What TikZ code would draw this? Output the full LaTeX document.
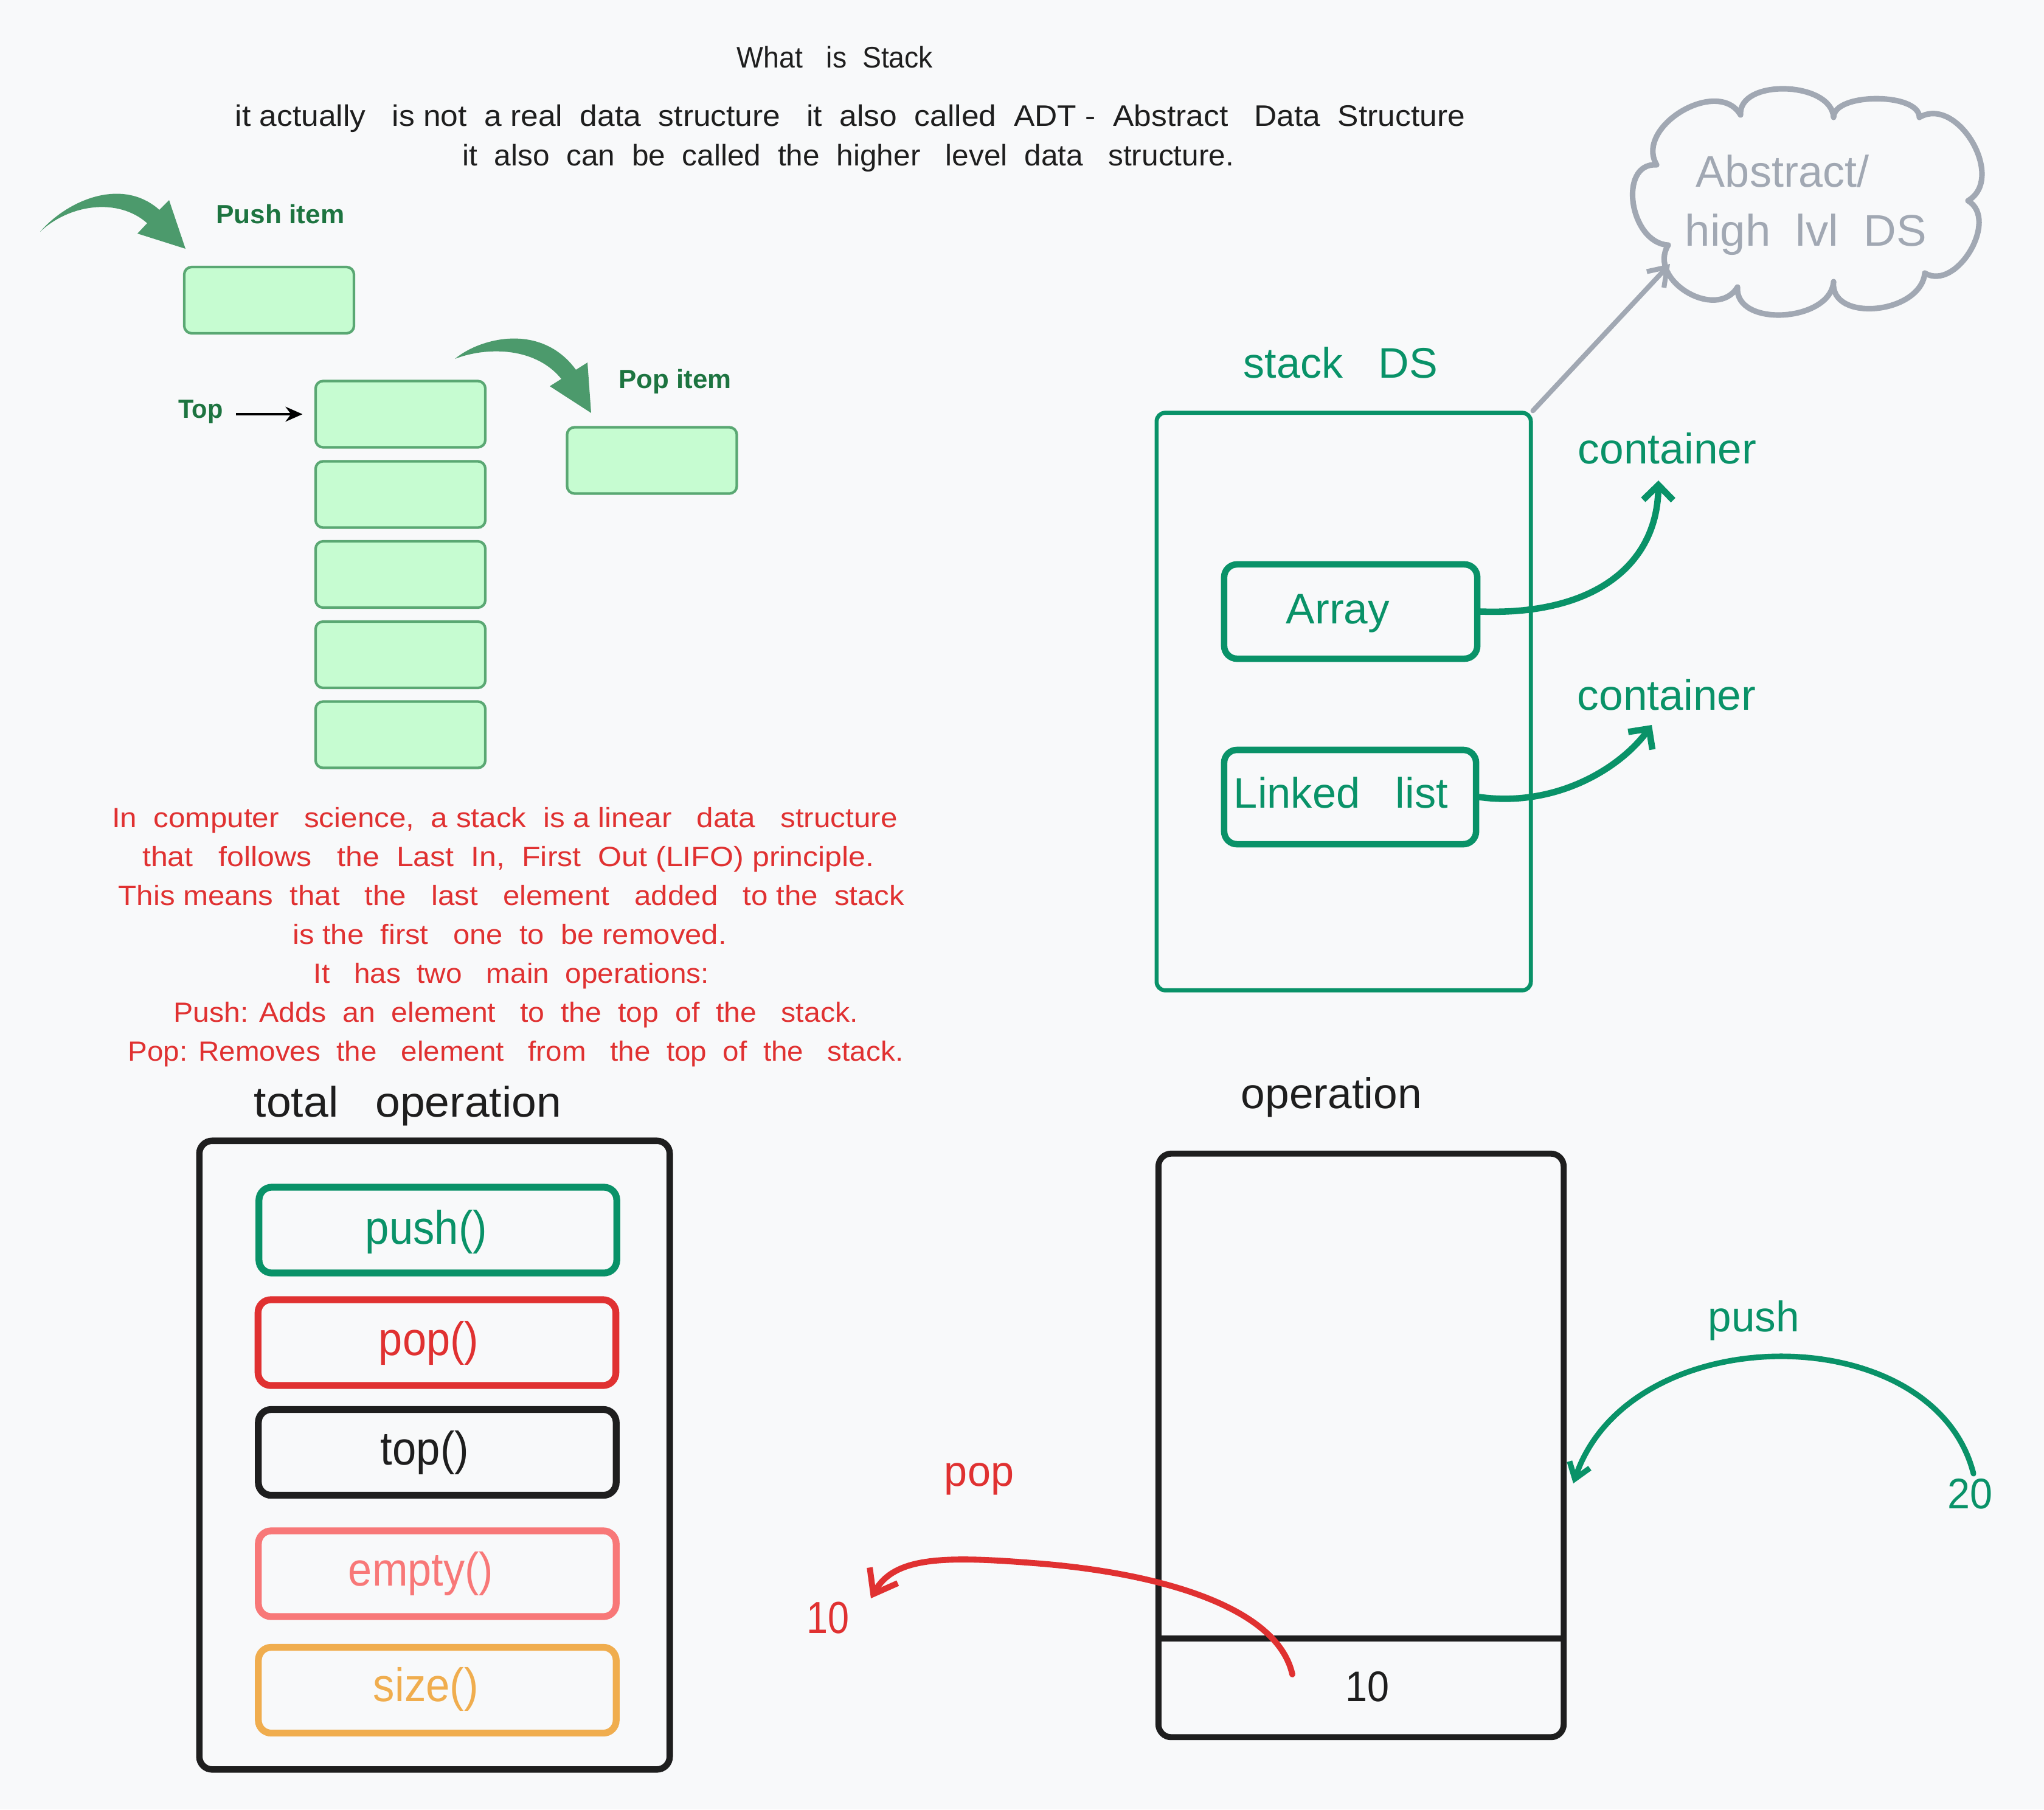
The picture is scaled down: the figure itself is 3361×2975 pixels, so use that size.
\documentclass[tikz,border=0pt]{standalone}
\usepackage{fontspec}
\setmainfont{Liberation Sans}
\usetikzlibrary{arrows.meta,calc}
\definecolor{bg}{HTML}{F8F9FA}
\definecolor{gfgfill}{HTML}{C6FCD1}
\definecolor{gfgedge}{HTML}{5AA873}
\definecolor{gfgtext}{HTML}{1D7440}
\definecolor{gfgarrow}{HTML}{4C9A6C}
\definecolor{exgreen}{HTML}{099268}
\definecolor{exred}{HTML}{E03131}
\definecolor{exblack}{HTML}{1E1E1E}
\definecolor{exsalmon}{HTML}{F87878}
\definecolor{exorange}{HTML}{F0AD4E}
\definecolor{exgray}{HTML}{A1A8B3}
\newcommand\myfs[1]{\fontsize{#1}{#1}\selectfont}
\newcommand\myfw[2]{\resizebox{#1cm}{\height}{#2}}
\tikzset{
  txt/.style={inner sep=0pt, anchor=base},
  gbox/.style={draw=gfgedge, fill=gfgfill, line width=1.2pt, rounded corners=3.5pt, inner sep=0pt, minimum width=2.79cm, minimum height=1.09cm},
  xbox/.style={rounded corners=6pt, inner sep=0pt, line width=3pt},
  opbox/.style={xbox, minimum width=5.88cm, minimum height=1.41cm, line width=3.2pt},
  exarrow/.style={line width=3pt, line cap=round},
}
\begin{document}
\begin{tikzpicture}[x=0.01cm,y=-0.01cm]
\path[use as bounding box, fill=bg] (0,0) rectangle (3361,2975);

% ---------- header text ----------
\node[txt, text=exblack] (title) at (1373,111) {\myfs{13.9}\myfw{3.22}{What~~~is~~Stack}};
\node[txt, text=exblack] (line2) at (1398,207) {\myfs{13.9}\myfw{20.21}{it actually~~ is not~ a real~ data~ structure~~ it~ also~ called~ ADT -~ Abstract~~ Data~ Structure}};
\node[txt, text=exblack] (line3) at (1395,272) {\myfs{13.9}\myfw{12.68}{it~ also~ can~ be~ called~ the~ higher~~ level~ data~~ structure.}};

% ---------- GfG stack picture ----------
\node[gbox] (pushbox) at (442.5,493.5) {};
\node[gbox] (popbox) at (1072,757) {};
\node[gbox] (s1) at (658.5,681) {};
\node[gbox] (s2) at (658.5,813) {};
\node[gbox] (s3) at (658.5,944.5) {};
\node[gbox] (s4) at (658.5,1076.5) {};
\node[gbox] (s5) at (658.5,1208) {};
\node[txt, text=gfgtext] (pushlbl) at (461,367) {\myfs{12.3}\bfseries\myfw{2.11}{Push item}};
\node[txt, text=gfgtext] (poplbl) at (1110,638) {\myfs{12.3}\bfseries\myfw{1.85}{Pop item}};
\node[txt, text=gfgtext] (toplbl) at (330,687) {\myfs{12.3}\bfseries\myfw{0.73}{Top}};
\draw[line width=1pt, -{Stealth[length=8pt,width=7pt]}, shorten <=6pt, shorten >=5.5pt]
  (toplbl.east |- s1.west) -- (s1.west);
\fill[gfgarrow] (66,381) .. controls (110,330) and (200,290) .. (262,345) -- (278,329) -- (305,409) -- (226,384) -- (242,367) .. controls (195,325) and (115,335) .. (66,381) -- cycle;
\fill[gfgarrow] (748,590) .. controls (790,555) and (890,530) .. (947,608) -- (966,596) -- (972,679) -- (904,635) -- (923,623) .. controls (880,570) and (800,570) .. (748,590) -- cycle;

% ---------- red paragraph ----------
\begin{scope}[every node/.style={txt, text=exred}]
\node (p1) at (830,1360) {\myfs{13}\myfw{12.91}{In~ computer~~ science,~ a stack~ is a linear~~ data~~ structure}};
\node (p2) at (836,1424) {\myfs{13}\myfw{12.03}{that~~ follows~~ the~ Last~ In,~ First~ Out (LIFO) principle.}};
\node (p3) at (841,1488) {\myfs{13}\myfw{12.92}{This means~ that~~ the~~ last~~ element~~ added~~ to the~ stack}};
\node (p4) at (838,1552) {\myfs{13}\myfw{7.13}{is the~ first~~ one~ to~ be removed.}};
\node (p5) at (841,1616) {\myfs{13}\myfw{6.50}{It~~ has~ two~~ main~ operations:}};
\node (p6) at (848,1680) {\myfs{13}\myfw{11.25}{Push: Adds~ an~ element~~ to~ the~ top~ of~ the~~ stack.}};
\node (p7) at (848,1744) {\myfs{13}\myfw{12.74}{Pop: Removes~ the~~ element~~ from~~ the~ top~ of~ the~~ stack.}};
\end{scope}

% ---------- stack DS ----------
\node[draw=exgreen, line width=1.9pt, rounded corners=4pt, minimum width=6.15cm, minimum height=9.49cm, inner sep=0pt] (dsbox) at (2209.5,1153.5) {};
\node[xbox, draw=exgreen, minimum width=4.16cm, minimum height=1.55cm] (arr) at (2221,1005.5) {};
\node[xbox, draw=exgreen, minimum width=4.14cm, minimum height=1.55cm] (ll) at (2220,1310.5) {};
\node[txt, text=exgreen] (dslbl) at (2204.5,621) {\myfs{20}\myfw{3.19}{stack~~~DS}};
\node[txt, text=exgreen] (arrlbl) at (2200,1025) {\myfs{20}\myfw{1.70}{Array}};
\node[txt, text=exgreen] (lllbl) at (2205,1328) {\myfs{20}\myfw{3.52}{Linked~~~list}};
\node[txt, text=exgreen] (cont1) at (2741.5,762) {\myfs{20}\myfw{2.93}{container}};
\node[txt, text=exgreen] (cont2) at (2740.5,1167) {\myfs{20}\myfw{2.93}{container}};
\coordinate (c1tip) at (2727,790);
\coordinate (c2tip) at (2716,1192);
\draw[exgreen, exarrow, -{Straight Barb[length=7pt,width=14pt]}] (arr.east) .. controls (2620,1012) and (2725,930) .. (c1tip);
\draw[exgreen, exarrow, -{Straight Barb[length=7pt,width=14pt]}] (ll.east) .. controls (2560,1328) and (2665,1262) .. (c2tip);

% ---------- cloud ----------
\draw[exgray, line width=2.6pt, line join=round]
  (2724,271) .. controls (2687,208) and (2825,126) .. (2862,189)
  .. controls (2858,129) and (3011,133) .. (3015,193)
  .. controls (3015,152) and (3156,152) .. (3156,193)
  .. controls (3219,156) and (3299,293) .. (3236,330)
  .. controls (3288,361) and (3217,480) .. (3165,449)
  .. controls (3158,517) and (3008,531) .. (3015,463)
  .. controls (3010,530) and (2852,539) .. (2857,472)
  .. controls (2822,529) and (2708,460) .. (2743,403)
  .. controls (2679,399) and (2660,267) .. (2724,271) -- cycle;
\node[txt, text=exgray] (cl1) at (2931,307) {\myfs{20.7}\myfw{2.84}{Abstract/}};
\node[txt, text=exgray] (cl2) at (2969.5,404) {\myfs{20.7}\myfw{3.97}{high~~lvl~~DS}};
\coordinate (cloudtip) at (2746,434);
\draw[exgray, line width=2.3pt, line cap=round, -{Straight Barb[length=8pt,width=11pt]}] (dsbox.north east) -- (cloudtip);

% ---------- total operation ----------
\node[txt, text=exblack] (totlbl) at (670.5,1836) {\myfs{20}\myfw{5.05}{total~~~operation}};
\node[xbox, draw=exblack, minimum width=7.73cm, minimum height=10.33cm] (totbox) at (714.5,2392.5) {};
\node[opbox, draw=exgreen] (pushf) at (720,2022.5) {};
\node[opbox, draw=exred] (popf) at (718.5,2207.5) {};
\node[opbox, draw=exblack] (topf) at (719,2388) {};
\node[opbox, draw=exsalmon] (emptyf) at (719,2587.5) {};
\node[opbox, draw=exorange] (sizef) at (719,2779) {};
\node[txt, text=exgreen] at (701,2045) {\myfs{22}\myfw{2.00}{push()}};
\node[txt, text=exred] at (705,2228) {\myfs{22}\myfw{1.64}{pop()}};
\node[txt, text=exblack] at (698.5,2408) {\myfs{22}\myfw{1.45}{top()}};
\node[txt, text=exsalmon] at (692,2607) {\myfs{22}\myfw{2.38}{empty()}};
\node[txt, text=exorange] at (700.5,2797) {\myfs{22}\myfw{1.73}{size()}};

% ---------- operation ----------
\node[txt, text=exblack] (oplbl) at (2189.5,1822) {\myfs{20}\myfw{2.97}{operation}};
\node[xbox, draw=exblack, line width=2.8pt, minimum width=6.66cm, minimum height=9.59cm] (opbox) at (2238,2376.5) {};
\coordinate (divl) at (opbox.west |- 0,2694);
\coordinate (divr) at (opbox.east |- 0,2694);
\draw[exblack, line width=2.8pt] (divl) -- (divr);
\node[txt, text=exblack] (ten) at (2248,2797) {\myfs{20}\myfw{0.72}{10}};
\node[txt, text=exgreen] (pushtxt) at (2884,2189) {\myfs{20}\myfw{1.50}{push}};
\node[txt, text=exgreen] (twenty) at (3239,2480) {\myfs{20}\myfw{0.74}{20}};
\node[txt, text=exred] (poptxt) at (1610,2443) {\myfs{20}\myfw{1.14}{pop}};
\node[txt, text=exred] (tenred) at (1361,2685) {\myfs{21}\myfw{0.70}{10}};
\coordinate (pushstart) at (3245,2423);
\coordinate (pushtip) at (2587,2439);
\draw[exgreen, line width=2.6pt, line cap=round, -{Straight Barb[length=7pt,width=10pt]}] (pushstart) .. controls (3180,2165) and (2680,2165) .. (pushtip);
\coordinate (popstart) at (2125,2753);
\coordinate (popmid) at (1700,2570);
\coordinate (poptip) at (1432,2628);
\draw[exred, line width=2.8pt, line cap=round, -{Straight Barb[length=10pt,width=15pt]}] (popstart) .. controls (2100,2640) and (1900,2585) .. (popmid) .. controls (1550,2558) and (1470,2560) .. (poptip);
\end{tikzpicture}
\end{document}
